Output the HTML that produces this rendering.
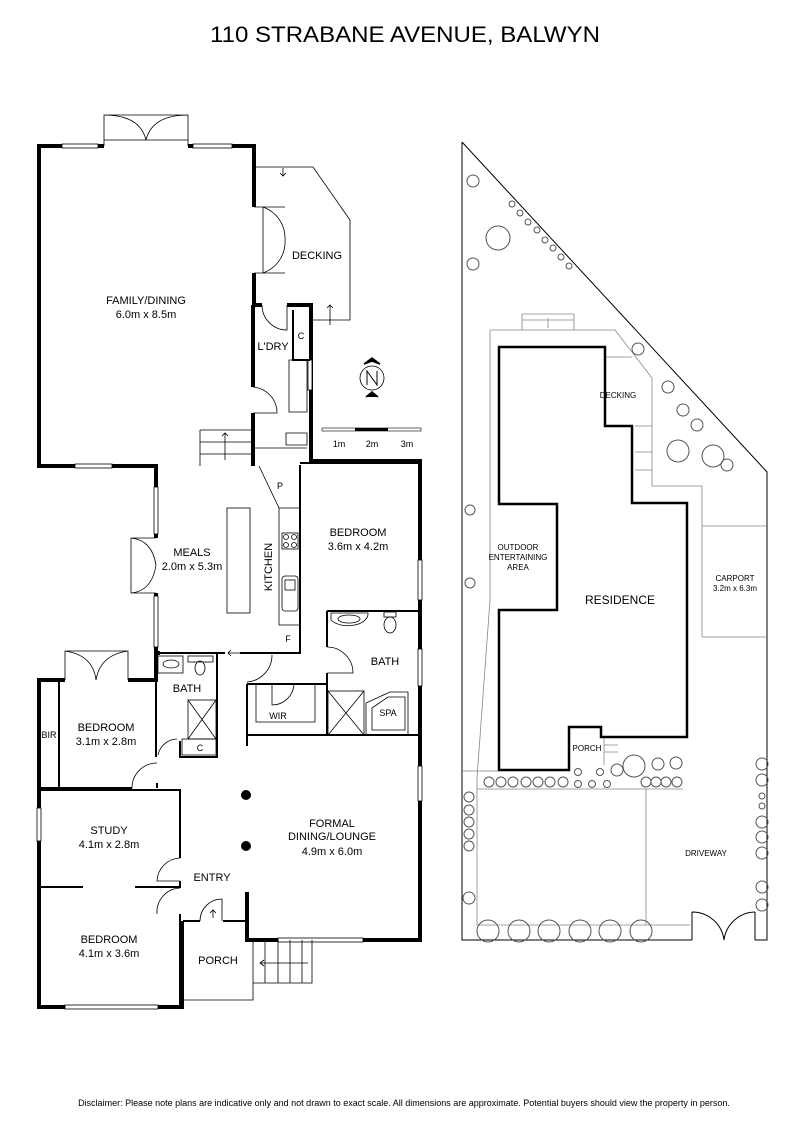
<!DOCTYPE html>
<html><head><meta charset="utf-8"><style>
html,body{margin:0;padding:0;background:#fff;}
svg{display:block;font-family:"Liberation Sans",Arial,sans-serif;}
</style></head><body>
<svg width="800" height="1132" viewBox="0 0 800 1132" xmlns="http://www.w3.org/2000/svg">
<text x="405" y="42" font-size="22" text-anchor="middle" textLength="390" lengthAdjust="spacingAndGlyphs">110 STRABANE AVENUE, BALWYN</text>

<g fill="none" stroke="#000" stroke-width="4" stroke-linejoin="miter">
<path d="M62,146 H39 V466 H156 V538 M156,593 V653 H160"/>
<path d="M98,146 H104 M188,146 H193 M232,146 H254 V207 M254,273 V305 H262"/>
<path d="M287,305 H311 V461 H420 V940 H333 M278,940 H247 V892"/>
<path d="M253,305 V387 M253,413 V466"/>
<path d="M65,680 H39 V1007 H182 V921 M128,680 H156 V653"/>
</g>
<g fill="#fff" stroke="#000" stroke-width="0.8">
<rect x="62" y="144" width="36" height="4"/><rect x="193" y="144" width="39" height="4"/>
<rect x="75" y="464" width="37" height="4"/>
<rect x="154" y="487" width="4" height="47"/><rect x="154" y="596" width="4" height="51"/>
<rect x="418" y="560" width="4" height="40"/><rect x="418" y="649" width="4" height="37"/>
<rect x="418" y="766" width="4" height="35"/>
<rect x="37" y="808" width="4" height="33"/>
<rect x="65" y="1005" width="93" height="4"/>
<rect x="278" y="938" width="85" height="4"/>
<rect x="308" y="360" width="4" height="30"/>
</g>
<g fill="none" stroke="#000" stroke-width="2">
<path d="M156,653 H225 M240,653 H300 V465 M300,463 H420"/>
<path d="M327,611 H420 M327,611 V647 M327,673 V735 M247,684 H327 M247,735 H420 M247,684 V746"/>
<path d="M217,653 V757 H180 V741 M156,653 V757"/>
<path d="M59,680 V788 M39,788 H132 M157,788 V783 M39,790 H180 V858 M180,881 V887 H135 M83,887 H39 M180,887 V888 M180,914 V1007"/>
<path d="M183,921 H200 M223,921 H247 V940"/>
<path d="M293,310 V360 H310"/>
</g>
<g fill="none" stroke="#000" stroke-width="0.8">
<!-- french doors top -->
<path d="M104,146 V115 H188 V146 M104,140 H188 M104,115 Q140,115 146,140 M188,115 Q152,115 146,140"/>
<!-- decking -->
<path d="M254,167 H313 L350,220 V320 H311 M254,207 H285 M254,273 H285 M263,207 V273 M263,207 A33,33 0 0 1 285,240 M263,273 A33,33 0 0 0 285,240"/>
<path d="M283,168 v8 m-3,-3 l3,3 l3,-3 M330,325 v-20 m-3,3 l3,-3 l3,3"/>
<path d="M262,305 A25,25 0 0 0 287,330 V305"/>
<path d="M253,387 A26,26 0 0 1 277,413 H253"/>
<path d="M289,360 V412 H307 V360 Z M286,433 H307 V445 H286 Z M253,448 H307"/>
<path d="M200,430 H252 V466 M200,430 V466 M200,442 H252 M200,454 H252 M225,460 V433 m-3,3 l3,-3 l3,3"/>
<!-- meals french doors -->
<path d="M156,538 H131 V593 H156 M131,538 Q152,540 156,565 M131,593 Q152,591 156,565"/>
<!-- kitchen -->
<rect x="227" y="508" width="23" height="105"/>
<path d="M259,466 L279,508 H300 M279,508 V625 H300"/>
<rect x="282" y="533" width="16" height="16"/><circle cx="286" cy="537" r="2.5"/><circle cx="294" cy="537" r="2.5"/><circle cx="286" cy="545" r="2.5"/><circle cx="294" cy="545" r="2.5"/>
<rect x="282" y="576" width="16" height="35" rx="3"/><rect x="285" y="580" width="10" height="10"/>
<path d="M272,655 A27,27 0 0 1 247,682 M240,653 h-12 m3,-3 l-3,3 l3,3"/>
<!-- bath right -->
<path d="M331,613 H368 A20,12 0 0 1 331,620 Z M327,647 A26,26 0 0 1 353,673 H327"/>
<ellipse cx="349" cy="619" rx="11" ry="4"/><ellipse cx="390" cy="625" rx="6" ry="8"/><rect x="384" y="612" width="12" height="5"/>
<rect x="328" y="691" width="36" height="44"/><path d="M328,691 L364,735 M364,691 L328,735"/>
<path d="M366,735 V703 L390,692 H408 V735 M372,730 V708 L388,697 H405 V730 Z"/>
<path d="M256,684 V722 H315 V684 M272,684 V705 A22,22 0 0 0 294,684"/>
<!-- bath left -->
<rect x="158" y="656" width="25" height="17"/><ellipse cx="171" cy="664" rx="8" ry="4"/>
<rect x="188" y="656" width="25" height="6"/><ellipse cx="200" cy="668" rx="5" ry="7"/>
<rect x="188" y="700" width="28" height="39"/><path d="M188,700 L216,739 M216,700 L188,739"/>
<rect x="182" y="739" width="34" height="16"/>
<path d="M158,755 A20,20 0 0 1 177,739 M132,788 A25,25 0 0 1 157,763"/>
<path d="M180,858 A24,24 0 0 0 157,881 H180 M157,914 A24,24 0 0 1 180,888"/>
<path d="M200,921 A22,22 0 0 1 222,899 V921 M213,918 v-8 m-3,3 l3,-3 l3,3"/>
<!-- porch/stairs -->
<path d="M253,940 V1000 H183 V921 M253,983 H312 V940 M265,940 V983 M278,940 V983 M290,940 V983 M302,940 V983 M308,963 H260 m4,-3 l-4,3 l4,3"/>
<!-- bedroom french doors -->
<path d="M65,680 V651 H128 V680 M65,651 Q93,655 96,680 M128,651 Q100,655 96,680"/>
</g>
<g fill="#000">
<circle cx="246" cy="795" r="5"/><circle cx="246" cy="846" r="5"/>
</g>
<g font-size="11" text-anchor="middle">
<text x="146" y="304">FAMILY/DINING</text><text x="146" y="318">6.0m x 8.5m</text>
<text x="317" y="259">DECKING</text>
<text x="273" y="350">L'DRY</text><text x="301" y="339" font-size="9">C</text>
<text x="280" y="489" font-size="9">P</text>
<text x="192" y="556">MEALS</text><text x="192" y="570">2.0m x 5.3m</text>
<text x="268" y="567" transform="rotate(-90 268 567)" dy="4">KITCHEN</text>
<text x="288" y="642" font-size="9">F</text>
<text x="358" y="536">BEDROOM</text><text x="358" y="550">3.6m x 4.2m</text>
<text x="385" y="665">BATH</text>
<text x="388" y="716" font-size="9">SPA</text>
<text x="278" y="719" font-size="9">WIR</text>
<text x="187" y="692">BATH</text>
<text x="200" y="751" font-size="9">C</text>
<text x="49" y="738" font-size="9">BIR</text>
<text x="106" y="731">BEDROOM</text><text x="106" y="745">3.1m x 2.8m</text>
<text x="109" y="834">STUDY</text><text x="109" y="848">4.1m x 2.8m</text>
<text x="212" y="881">ENTRY</text>
<text x="332" y="827">FORMAL</text><text x="332" y="840">DINING/LOUNGE</text><text x="332" y="855">4.9m x 6.0m</text>
<text x="109" y="943">BEDROOM</text><text x="109" y="957">4.1m x 3.6m</text>
<text x="218" y="964">PORCH</text>
</g>
<!-- north & scale -->
<g fill="none" stroke="#000">
<circle cx="372" cy="378" r="12" stroke-width="0.8"/>
<path d="M367,385 V371 L377,385 V371" stroke-width="1"/>
<path d="M364,364 L372,358 L380,364 L372,361 Z M366,397 L372,392 L378,397" fill="#000" stroke-width="1.5"/>
<rect x="322" y="428" width="99" height="3" stroke-width="0.6"/>
</g>
<rect x="355" y="428" width="33" height="3" fill="#000"/>
<g font-size="9" text-anchor="middle"><text x="339" y="447">1m</text><text x="372" y="447">2m</text><text x="407" y="447">3m</text></g>

<!-- site plan -->
<g fill="none" stroke="#000" stroke-width="1">
<path d="M462,142 L767,472 V940 H755 M692,940 H462 V142"/>
<path d="M755,940 V912 M692,940 V912 M692,912 A32,32 0 0 1 724,940 M755,912 A32,32 0 0 0 724,940"/>
</g>
<g fill="none" stroke="#888" stroke-width="0.8">
<path d="M522,330 V314 H574 V330 M522,320 H574 M548,328 V318"/>
<path d="M490,330 H615 L652,378 V486 H702 V637 M702,526 H767 M702,637 H767"/>
<path d="M605,357 H632 M635,426 H652 M635,452 H652 M635,470 H652"/>
<path d="M490,330 V600 L477,778 M462,771 H499 M477,778 V925 H690 M646,789 V925 M477,789 H683"/>
<path d="M604,738 V765 M604,745 H618 M604,752 H618"/>
</g>
<path d="M499,347 H605 V426 H632 V503 H687 V737 H601 V727 H569 V770 H499 V610 H557 V504 H499 Z" fill="none" stroke="#000" stroke-width="2.5"/>
<g fill="none" stroke="#555" stroke-width="1">
<circle cx="473" cy="181" r="6"/><circle cx="498" cy="238" r="12"/><circle cx="473" cy="264" r="6"/>
<circle cx="512" cy="204" r="3"/><circle cx="520" cy="213" r="3"/><circle cx="528" cy="222" r="3"/><circle cx="537" cy="230" r="3"/><circle cx="545" cy="240" r="3"/><circle cx="553" cy="248" r="3"/><circle cx="561" cy="257" r="3"/><circle cx="569" cy="266" r="3"/>
<circle cx="638" cy="349" r="6"/><circle cx="668" cy="387" r="6"/><circle cx="683" cy="410" r="6"/><circle cx="697" cy="425" r="6"/>
<circle cx="678" cy="451" r="11"/><circle cx="713" cy="456" r="11"/><circle cx="727" cy="465" r="6"/>
<circle cx="470" cy="510" r="5"/><circle cx="470" cy="583" r="5"/>
<circle cx="469" cy="797" r="5"/><circle cx="469" cy="810" r="5"/><circle cx="469" cy="822" r="5"/><circle cx="469" cy="834" r="5"/><circle cx="469" cy="846" r="5"/>
<circle cx="469" cy="898" r="6"/>
<circle cx="489" cy="782" r="5"/><circle cx="501" cy="782" r="5"/><circle cx="513" cy="782" r="5"/><circle cx="526" cy="782" r="5"/><circle cx="538" cy="782" r="5"/><circle cx="550" cy="782" r="5"/><circle cx="563" cy="782" r="5"/>
<circle cx="578" cy="772" r="3.5"/><circle cx="578" cy="784" r="3.5"/><circle cx="592" cy="784" r="3.5"/><circle cx="600" cy="772" r="3.5"/><circle cx="607" cy="784" r="3.5"/>
<circle cx="617" cy="770" r="6"/><circle cx="634" cy="766" r="11"/><circle cx="658" cy="764" r="6"/><circle cx="676" cy="763" r="6"/>
<circle cx="646" cy="782" r="5"/><circle cx="656" cy="782" r="5"/><circle cx="666" cy="782" r="5"/><circle cx="677" cy="782" r="5"/>
<circle cx="488" cy="931" r="11"/><circle cx="519" cy="931" r="11"/><circle cx="549" cy="931" r="11"/><circle cx="580" cy="931" r="11"/><circle cx="610" cy="931" r="11"/><circle cx="641" cy="931" r="11"/>
<circle cx="762" cy="764" r="6"/><circle cx="762" cy="780" r="6"/><circle cx="762" cy="796" r="3"/><circle cx="762" cy="806" r="3"/><circle cx="762" cy="822" r="6"/><circle cx="762" cy="837" r="6"/><circle cx="762" cy="853" r="6"/><circle cx="762" cy="887" r="6"/><circle cx="762" cy="905" r="6"/>
</g>
<g font-size="9" text-anchor="middle">
<text x="618" y="398" font-size="8">DECKING</text>
<text x="518" y="550" font-size="8">OUTDOOR</text><text x="518" y="560" font-size="8">ENTERTAINING</text><text x="518" y="570" font-size="8">AREA</text>
<text x="620" y="604" font-size="12">RESIDENCE</text>
<text x="735" y="581" font-size="8">CARPORT</text><text x="735" y="591" font-size="8">3.2m x 6.3m</text>
<text x="587" y="751" font-size="8">PORCH</text>
<text x="706" y="856" font-size="8">DRIVEWAY</text>
</g>
<text x="404" y="1106" font-size="9" text-anchor="middle">Disclaimer: Please note plans are indicative only and not drawn to exact scale. All dimensions are approximate. Potential buyers should view the property in person.</text>
</svg>
</body></html>
